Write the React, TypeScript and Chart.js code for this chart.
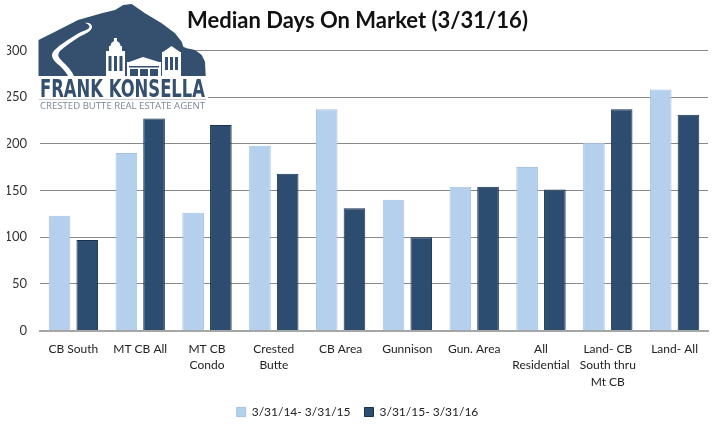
import React, { useEffect, useRef } from "react";
import { Chart, registerables } from "chart.js";

Chart.register(...registerables);

const categories: string[][] = [
  ["CB South"],
  ["MT CB All"],
  ["MT CB", "Condo"],
  ["Crested", "Butte"],
  ["CB Area"],
  ["Gunnison"],
  ["Gun. Area"],
  ["All", "Residential"],
  ["Land- CB", "South thru", "Mt CB"],
  ["Land- All"],
];
const seriesNames = ["3/31/14- 3/31/15", "3/31/15- 3/31/16"];
const series1 = [123, 190, 126, 198, 237, 140, 154, 175, 201, 258];
const series2 = [97, 227, 220, 168, 131, 100, 154, 151, 237, 231];
const yTicks = { min: 0, max: 300, step: 50 };
const titleText = "Median Days On Market (3/31/16)";
const FONT = "Lato, 'Open Sans', sans-serif";

function Logo() {
  return (
    <svg
      width={713}
      height={432}
      style={{ position: "absolute", left: 0, top: 0, pointerEvents: "none" }}
    >
      <path
        d="M38.5,40 L55,31.7 L78,20 L101.7,13.3 L115,10 L123.3,5 L131.7,4 L145,13.3 L161.7,23.3 L175,33.3 L181.7,41.7 L183.3,46.7 L186.7,48.3 L195,50 L201.7,55 L205,61.7 L205.7,76 L38.5,76 Z"
        fill="#34506e"
      />
      <path
        d="M85,23 C89,24 91,27 88,29 C84,31 80,32 74,36 C66,41 58,46 53,52 C50,57 54,61 60,66 C63,69 66,72 68,76 L74,76 C72,71 68,67 63,62 C58,57 57,55 60,51 C65,46 72,42 79,37 C85,34 92,31 92,27 C92,24 89,22 85,23 Z"
        fill="#ffffff"
      />
      <g fill="#ffffff">
        <rect x={106} y={51} width={19} height={25} />
        <rect x={109} y={46} width={13} height={5} />
        <circle cx={115.5} cy={46} r={5} />
        <rect x={114} y={38} width={3} height={5} />
        <rect x={127} y={62} width={34} height={14} />
        <polygon points="129,62 143,57 159,62" />
        <rect x={162} y={52} width={19} height={24} />
        <polygon points="163,52 171.5,46 180,52" />
      </g>
      <g fill="#34506e">
        <rect x={108.5} y={56} width={3} height={15} />
        <rect x={114} y={56} width={3} height={15} />
        <rect x={119.5} y={56} width={3} height={15} />
        <rect x={129} y={66} width={30} height={1.5} />
        <rect x={130} y={69} width={8} height={7} />
        <rect x={140} y={69} width={8} height={7} />
        <rect x={150} y={69} width={8} height={7} />
        <rect x={165} y={57} width={3} height={13} />
        <rect x={170} y={57} width={3} height={13} />
        <rect x={175} y={57} width={3} height={13} />
      </g>
      <rect x={38} y={76} width={170} height={36} fill="#ffffff" />
      <text
        x={40}
        y={96.5}
        textLength={165}
        lengthAdjust="spacingAndGlyphs"
        fill="#34506e"
        style={{
          fontFamily: "'DejaVu Sans Condensed', 'Liberation Sans Narrow', sans-serif",
          fontWeight: 700,
          fontSize: 25,
        }}
      >
        FRANK KONSELLA
      </text>
      <line x1={39} y1={99.5} x2={206} y2={99.5} stroke="#c8ccd2" strokeWidth={1} />
      <text
        x={40}
        y={108.5}
        textLength={165}
        lengthAdjust="spacingAndGlyphs"
        fill="#7b8796"
        style={{ fontFamily: "'Open Sans', sans-serif", fontSize: 9 }}
      >
        CRESTED BUTTE REAL ESTATE AGENT
      </text>
    </svg>
  );
}

export default function App() {
  const canvasRef = useRef<HTMLCanvasElement | null>(null);

  useEffect(() => {
    document.body.style.margin = "0";
    const canvas = canvasRef.current;
    if (!canvas) return;
    const chart = new Chart(canvas, {
      type: "bar",
      data: {
        labels: categories,
        datasets: [
          {
            label: seriesNames[0],
            data: series1,
            backgroundColor: "#b4d0ec",
            borderColor: "#a4c4e6",
            borderWidth: 1,
            categoryPercentage: 0.83,
            barPercentage: 0.78,
          },
          {
            label: seriesNames[1],
            data: series2,
            backgroundColor: "#2c4d6f",
            borderColor: "#17304e",
            borderWidth: 1,
            categoryPercentage: 0.83,
            barPercentage: 0.78,
          },
        ],
      },
      options: {
        animation: false,
        responsive: false,
        maintainAspectRatio: false,
        layout: { padding: { left: 7, right: 5, top: 8, bottom: 4 } },
        plugins: {
          title: {
            display: true,
            text: titleText,
            color: "#111111",
            font: { family: FONT, size: 22, weight: "bold" },
            padding: { top: 0, bottom: 16 },
          },
          legend: {
            position: "bottom",
            labels: {
              boxWidth: 9,
              boxHeight: 9,
              color: "#222222",
              font: { family: FONT, size: 12 },
              padding: 14,
            },
          },
          tooltip: { enabled: false },
        },
        scales: {
          x: {
            grid: { display: false },
            border: { display: true, color: "#a6a6a6", width: 2 },
            ticks: {
              color: "#222222",
              font: { family: FONT, size: 12, lineHeight: "16.5px" },
              maxRotation: 0,
              autoSkip: false,
              padding: 2,
            },
          },
          y: {
            min: yTicks.min,
            max: yTicks.max,
            afterFit: (s: any) => {
              s.width = 33;
            },
            ticks: {
              stepSize: yTicks.step,
              color: "#333333",
              font: { family: FONT, size: 13 },
              padding: 13,
            },
            grid: { color: "#8a8a8a", lineWidth: 1, drawTicks: false },
            border: { display: false },
          },
        },
      },
    });
    return () => chart.destroy();
  }, []);

  return (
    <div style={{ position: "relative", width: 713, height: 432, background: "#fff" }}>
      <canvas ref={canvasRef} width={713} height={432} />
      <Logo />
    </div>
  );
}
